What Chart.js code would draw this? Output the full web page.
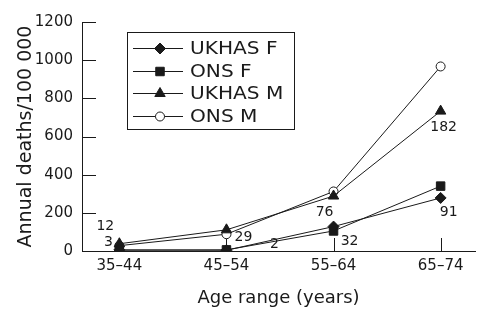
<!DOCTYPE html>
<html>
<head>
<meta charset="utf-8">
<script src="https://cdn.jsdelivr.net/npm/chart.js@4"></script>
<style>
  html, body { margin: 0; padding: 0; background: #fff; }
  #wrap { width: 482px; height: 309px; }
</style>
</head>
<body>
<div id="wrap"><canvas id="chart" width="482" height="309"></canvas></div>
<script>
// data
const ageGroups = ["35–44", "45–54", "55–64", "65–74"];
const ukhasF = [6, 4, 128, 278];
const onsF = [4, 6, 105, 340];
const ukhasM = [38, 111, 288, 733];
const onsM = [28, 88, 312, 967];
// numbers printed beside the UKHAS points
const countsM = [12, 29, 76, 182];
const countsF = [3, 2, 32, 91];
const yTicks = [0, 200, 400, 600, 800, 1000, 1200];

const FONT = "'DejaVu Sans', sans-serif";
const INK = "#1a1a1a";

const toPts = (arr) => arr.map((v, i) => ({ x: i, y: v }));

// ticks that point into the plot area
const innerTicks = {
  id: "innerTicks",
  beforeDatasetsDraw(chart) {
    const { ctx, chartArea, scales } = chart;
    ctx.save();
    ctx.strokeStyle = INK;
    ctx.lineWidth = 1;
    ctx.beginPath();
    yTicks.forEach((v) => {
      const y = Math.round(scales.y.getPixelForValue(v)) + 0.5;
      ctx.moveTo(chartArea.left, y);
      ctx.lineTo(chartArea.left + 14, y);
    });
    ageGroups.forEach((g, i) => {
      const x = Math.round(scales.x.getPixelForValue(i)) + 0.5;
      ctx.moveTo(x, chartArea.bottom);
      ctx.lineTo(x, chartArea.bottom - 13);
    });
    ctx.stroke();
    ctx.restore();
  },
};

// boxed legend drawn inside the plot
const boxLegend = {
  id: "boxLegend",
  afterDraw(chart) {
    const { ctx } = chart;
    ctx.save();
    ctx.strokeStyle = INK;
    ctx.lineWidth = 1;
    ctx.strokeRect(127.5, 32.5, 167, 97);
    chart.data.datasets.forEach((ds, i) => {
      const y = Math.round(48 + i * 22.7) + 0.5;
      ctx.beginPath();
      ctx.moveTo(133, y);
      ctx.lineTo(183, y);
      ctx.stroke();
      ctx.fillStyle = ds.pointBackgroundColor;
      Chart.helpers.drawPoint(ctx, {
        pointStyle: ds.pointStyle,
        radius: ds.pointRadius,
        borderWidth: 1,
        rotation: 0,
      }, 160, y);
      ctx.save();
      ctx.fillStyle = INK;
      ctx.font = "17.5px " + FONT;
      ctx.textBaseline = "middle";
      ctx.textAlign = "left";
      ctx.translate(190, y + 0.5);
      ctx.scale(1.15, 1);
      ctx.fillText(ds.label, 0, 0);
      ctx.restore();
    });
    ctx.restore();
  },
};

// sample counts next to the UKHAS points
const countLabels = {
  id: "countLabels",
  afterDatasetsDraw(chart) {
    const { ctx, scales } = chart;
    const offM = [[-14, -17], [17, 8], [-9, 16], [3, 16]];
    const offF = [[-11, -7], [48, -6], [16, 15], [8, 14]];
    ctx.save();
    ctx.fillStyle = INK;
    ctx.font = "14px " + FONT;
    ctx.textAlign = "center";
    ctx.textBaseline = "middle";
    countsM.forEach((c, i) => {
      const x = scales.x.getPixelForValue(i) + offM[i][0];
      const y = scales.y.getPixelForValue(ukhasM[i]) + offM[i][1];
      ctx.fillText(String(c), x, y);
    });
    countsF.forEach((c, i) => {
      const x = scales.x.getPixelForValue(i) + offF[i][0];
      const y = scales.y.getPixelForValue(ukhasF[i]) + offF[i][1];
      ctx.fillText(String(c), x, y);
    });
    ctx.restore();
  },
};

const common = {
  borderColor: INK,
  borderWidth: 1,
  pointBorderColor: INK,
  pointBorderWidth: 1,
  tension: 0,
  fill: false,
};

new Chart(document.getElementById("chart"), {
  type: "line",
  data: {
    datasets: [
      { ...common, label: "UKHAS F", data: toPts(ukhasF), pointStyle: "rectRot", pointRadius: 5.5, pointBackgroundColor: INK },
      { ...common, label: "ONS F", data: toPts(onsF), pointStyle: "rect", pointRadius: 6, pointBackgroundColor: INK },
      { ...common, label: "UKHAS M", data: toPts(ukhasM), pointStyle: "triangle", pointRadius: 6, pointBackgroundColor: INK },
      { ...common, label: "ONS M", data: toPts(onsM), pointStyle: "circle", pointRadius: 4.5, pointBackgroundColor: "#fff" },
    ],
  },
  options: {
    responsive: false,
    animation: false,
    layout: { padding: { top: 22, right: 0, bottom: 0, left: 0 } },
    plugins: {
      legend: { display: false },
      tooltip: { enabled: false },
    },
    scales: {
      x: {
        type: "linear",
        min: -0.349,
        max: 3.321,
        afterBuildTicks: (s) => { s.ticks = ageGroups.map((g, i) => ({ value: i })); },
        afterFit: (s) => { s.height = 58; },
        grid: { drawOnChartArea: false, drawTicks: false },
        border: { color: INK, width: 1 },
        ticks: {
          padding: 6,
          color: INK,
          font: { family: FONT, size: 15 },
          callback: (v) => ageGroups[v],
        },
        title: {
          display: true,
          text: "Age range (years)",
          color: INK,
          font: { family: FONT, size: 18 },
          padding: 0,
        },
      },
      y: {
        min: 0,
        max: 1200,
        afterBuildTicks: (s) => { s.ticks = yTicks.map((v) => ({ value: v })); },
        afterFit: (s) => { s.width = 82; },
        grid: { drawOnChartArea: false, drawTicks: false },
        border: { color: INK, width: 1 },
        ticks: {
          padding: 9,
          color: INK,
          font: { family: FONT, size: 15 },
          callback: (v) => String(v),
        },
        title: {
          display: true,
          text: "Annual deaths/100 000",
          color: INK,
          font: { family: FONT, size: 19 },
          padding: { top: 15, bottom: 0 },
        },
      },
    },
  },
  plugins: [innerTicks, countLabels, boxLegend],
});
</script>
</body>
</html>
